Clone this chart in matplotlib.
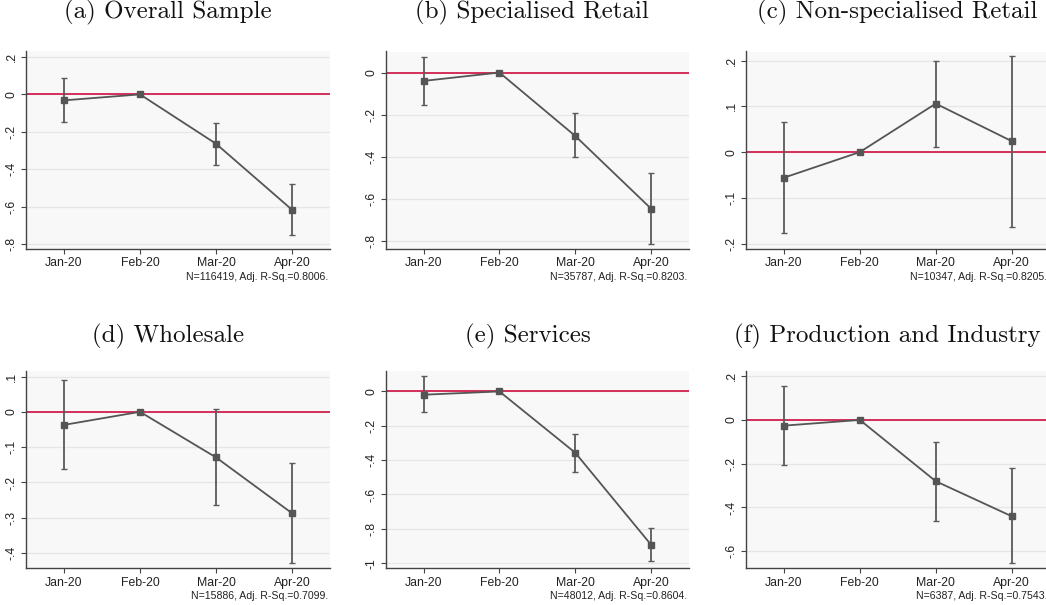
import numpy as np
import matplotlib
matplotlib.use("Agg")
import matplotlib.pyplot as plt

months = ["Jan-20", "Feb-20", "Mar-20", "Apr-20"]

titles = ["(a) Overall Sample", "(b) Specialised Retail", "(c) Non-specialised Retail",
          "(d) Wholesale", "(e) Services", "(f) Production and Industry"]

notes = ["N=116419, Adj. R-Sq.=0.8006.", "N=35787, Adj. R-Sq.=0.8203.",
         "N=10347, Adj. R-Sq.=0.8205.", "N=15886, Adj. R-Sq.=0.7099.",
         "N=48012, Adj. R-Sq.=0.8604.", "N=6387, Adj. R-Sq.=0.7543."]

# point estimates and 95% confidence bounds, Feb-20 is the base month
overall_est = [-0.032, 0.0, -0.264, -0.617]
overall_lo = [-0.148, 0.0, -0.380, -0.754]
overall_hi = [0.086, 0.0, -0.151, -0.482]

special_est = [-0.040, 0.0, -0.302, -0.648]
special_lo = [-0.156, 0.0, -0.403, -0.814]
special_hi = [0.076, 0.0, -0.194, -0.476]

nonspec_est = [-0.056, 0.0, 0.106, 0.024]
nonspec_lo = [-0.177, 0.0, 0.012, -0.163]
nonspec_hi = [0.066, 0.0, 0.199, 0.211]

wholesale_est = [-0.037, 0.0, -0.129, -0.287]
wholesale_lo = [-0.161, 0.0, -0.264, -0.429]
wholesale_hi = [0.089, 0.0, 0.007, -0.144]

services_est = [-0.019, 0.0, -0.357, -0.893]
services_lo = [-0.120, 0.0, -0.468, -0.990]
services_hi = [0.089, 0.0, -0.249, -0.798]

industry_est = [-0.026, 0.0, -0.280, -0.440]
industry_lo = [-0.207, 0.0, -0.463, -0.655]
industry_hi = [0.155, 0.0, -0.102, -0.221]

estimates = [overall_est, special_est, nonspec_est, wholesale_est, services_est, industry_est]
lows = [overall_lo, special_lo, nonspec_lo, wholesale_lo, services_lo, industry_lo]
highs = [overall_hi, special_hi, nonspec_hi, wholesale_hi, services_hi, industry_hi]

yticks = [np.arange(-0.8, 0.21, 0.2), np.arange(-0.8, 0.01, 0.2), np.arange(-0.2, 0.21, 0.1),
          np.arange(-0.4, 0.11, 0.1), np.arange(-1.0, 0.01, 0.2), np.arange(-0.6, 0.21, 0.2)]
ylims = [(-0.827, 0.232), (-0.84, 0.10), (-0.212, 0.220),
         (-0.443, 0.117), (-1.03, 0.122), (-0.678, 0.226)]


def stata_label(v):
    # Stata style: no leading zero, plain hyphen for minus
    v = round(v, 2)
    if abs(v) < 1e-9:
        return "0"
    s = f"{v:g}"
    return s.replace("0.", ".")


W, H = 1046, 605
fig = plt.figure(figsize=(W / 100, H / 100), dpi=100)

# axes boxes in pixels: left, top, right, bottom
boxes = [(26, 51, 330, 249), (385.7, 51.5, 689, 249), (746, 51.5, 1049.6, 249),
         (26, 370.5, 330, 568.3), (385.7, 370.5, 689, 568.3), (746, 370.5, 1049.6, 568.3)]
title_pos = [(168, 12), (532, 12), (897, 12), (168, 336), (528, 336), (887, 336)]

sans = ["Liberation Sans", "DejaVu Sans"]
x = np.arange(1, 5)

for i in range(6):
    l, t, r, b = boxes[i]
    ax = fig.add_axes([l / W, 1 - b / H, (r - l) / W, (b - t) / H])
    ax.set_facecolor("#f8f8f8")
    est = np.array(estimates[i])
    err = [est - np.array(lows[i]), np.array(highs[i]) - est]

    ax.axhline(0, color="#d2204e", lw=1.3, zorder=2)
    ax.errorbar(x, est, yerr=err, fmt="s-", color="#555555", ecolor="#5a5a5a",
                lw=1.3, elinewidth=1.3, capsize=2, capthick=1.0, ms=4.8, zorder=3)

    ax.set_xlim(0.5, 4.5)
    ax.set_ylim(*ylims[i])
    ax.set_xticks(x)
    ax.set_xticklabels(months, fontfamily=sans, fontsize=8.8, color="#222222")
    ax.set_yticks(yticks[i])
    ax.set_yticklabels([stata_label(v) for v in yticks[i]], rotation=90, va="center",
                       fontfamily=sans, fontsize=8.8, color="#222222")
    ax.grid(axis="y", color="#e6e6e6", lw=0.9, zorder=0)
    ax.set_axisbelow(True)
    for side in ["top", "right"]:
        ax.spines[side].set_visible(False)
    for side in ["left", "bottom"]:
        ax.spines[side].set_color("#444444")
        ax.spines[side].set_linewidth(1.0)
    ax.tick_params(length=3.5, width=0.8, color="#444444", pad=2.5)

    ax.text(0.993, -0.141, notes[i], transform=ax.transAxes, ha="right", va="center",
            fontfamily=sans, fontsize=7.6, color="#222222")

    tx, ty = title_pos[i]
    fig.text(tx / W, 1 - ty / H, titles[i], ha="center", va="center",
             fontfamily="cmr10", fontsize=18, color="#111111")

fig.savefig("out.png", dpi=100, facecolor="white")
